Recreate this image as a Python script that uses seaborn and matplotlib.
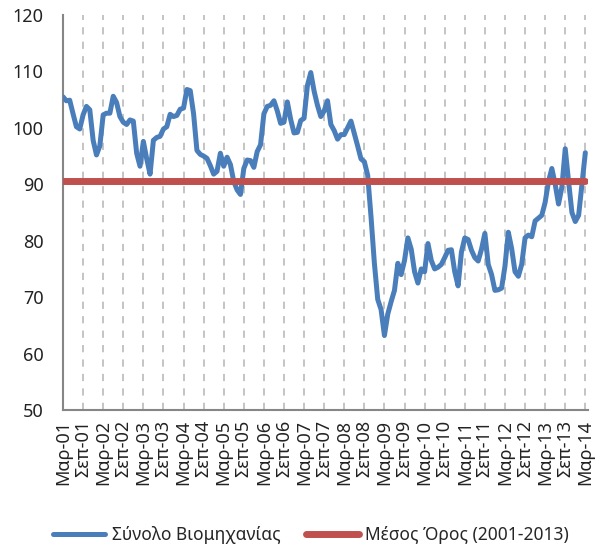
import matplotlib
matplotlib.use("Agg")
import matplotlib.pyplot as plt
import seaborn as sns
import pandas as pd
import numpy as np

# ---- data ----
years = list(range(1, 15))
tick_labels = []
for y in range(1, 14):
    tick_labels += [f"Μαρ-{y:02d}", f"Σεπ-{y:02d}"]
tick_labels.append("Μαρ-14")

industry = [
    # Mar-01 .. Feb-02
    105.5, 104.8, 104.9, 102.5, 100.2, 99.8, 102.3, 103.8, 103.2, 97.8, 95.2, 96.8,
    # Mar-02 .. Feb-03
    102.3, 102.6, 102.6, 105.6, 104.5, 102.0, 101.0, 100.6, 101.4, 101.2, 95.5, 93.2,
    # Mar-03 .. Feb-04
    97.6, 94.5, 91.8, 97.8, 98.3, 98.5, 99.8, 100.2, 102.4, 102.0, 102.2, 103.3,
    # Mar-04 .. Feb-05
    103.5, 106.8, 106.6, 102.5, 96.0, 95.3, 95.0, 94.6, 93.3, 91.8, 92.3, 95.5,
    # Mar-05 .. Feb-06
    93.2, 94.8, 93.5, 90.5, 89.0, 88.2, 92.8, 94.3, 94.2, 93.0, 95.8, 97.0,
    # Mar-06 .. Feb-07
    102.5, 103.8, 104.0, 104.8, 103.0, 100.8, 101.0, 104.6, 101.5, 99.1, 99.2, 101.3,
    # Mar-07 .. Feb-08
    101.7, 107.5, 109.8, 106.5, 104.0, 102.0, 103.0, 104.8, 100.6, 99.5, 98.0, 98.8,
    # Mar-08 .. Feb-09
    98.8, 100.0, 101.2, 99.0, 96.8, 94.5, 94.0, 91.6, 84.2, 76.0, 69.6, 67.8,
    # Mar-09 .. Feb-10
    63.2, 67.0, 69.2, 71.2, 76.0, 74.0, 76.5, 80.5, 78.5, 74.5, 72.5, 75.0,
    # Mar-10 .. Feb-11
    74.5, 79.5, 76.5, 75.0, 75.3, 75.8, 77.0, 78.3, 78.4, 74.5, 72.0, 78.0,
    # Mar-11 .. Feb-12
    80.5, 80.2, 78.3, 77.0, 76.4, 78.5, 81.3, 75.8, 74.0, 71.2, 71.3, 71.6,
    # Mar-12 .. Feb-13
    75.5, 81.5, 78.6, 74.5, 73.7, 75.8, 80.5, 81.0, 80.7, 83.5, 84.0, 84.5,
    # Mar-13 .. Mar-14
    86.8, 90.5, 92.8, 90.0, 86.5, 89.5, 96.3, 90.5, 85.0, 83.4, 84.5, 90.0, 95.6,
]
average_value = 90.6

series_names = ["Σύνολο Βιομηχανίας", "Μέσος Όρος (2001-2013)"]
colors = ["#4A7EBB", "#C0504D"]

n = len(industry)
idx = np.arange(n)
df = pd.DataFrame({
    "t": np.concatenate([idx, idx]),
    "value": industry + [average_value] * n,
    "series": [series_names[0]] * n + [series_names[1]] * n,
})

sns.set_style("white")
plt.rcParams["font.family"] = ["Noto Sans", "DejaVu Sans"]

fig = plt.figure(figsize=(5.98, 5.52), dpi=100)
ax = fig.add_axes([63 / 598, 1 - 410 / 552, (588 - 63) / 598, (410 - 15) / 552])

# vertical dashed gridlines
for xt in range(6, n, 6):
    ax.axvline(xt, color="#BFBFBF", lw=1.3, ls=(0, (4, 4)), zorder=0)

sns.lineplot(data=df[df.series == series_names[0]], x="t", y="value",
             color=colors[0], lw=3.6, ax=ax, label=series_names[0], zorder=3)
sns.lineplot(data=df[df.series == series_names[1]], x="t", y="value",
             color=colors[1], lw=5.0, ax=ax, label=series_names[1], zorder=4)

ax.set_xlim(0, n - 0.2)
ax.set_ylim(50, 120)
ax.set_yticks(range(50, 121, 10))
ax.set_xticks(range(0, n, 6))
ax.set_xticklabels(tick_labels, rotation=90, fontsize=13)
ax.tick_params(axis="y", labelsize=13, length=0, pad=14, colors="#222222")
ax.tick_params(axis="x", length=5, width=1.2, color="#868686", pad=2,
               labelcolor="#222222", direction="out")
ax.set_xlabel("")
ax.set_ylabel("")
for s in ["top", "right"]:
    ax.spines[s].set_visible(False)
for s in ["left", "bottom"]:
    ax.spines[s].set_color("#868686")
    ax.spines[s].set_linewidth(1.5)

ax.get_legend().remove()
handles, labels = ax.get_legend_handles_labels()
fig.legend(handles, labels, loc="center", bbox_to_anchor=(0.52, 0.031),
           ncol=2, frameon=False, fontsize=12.5, handlelength=3.0,
           columnspacing=1.5, handletextpad=0.4)

fig.savefig("out.png", dpi=100)
